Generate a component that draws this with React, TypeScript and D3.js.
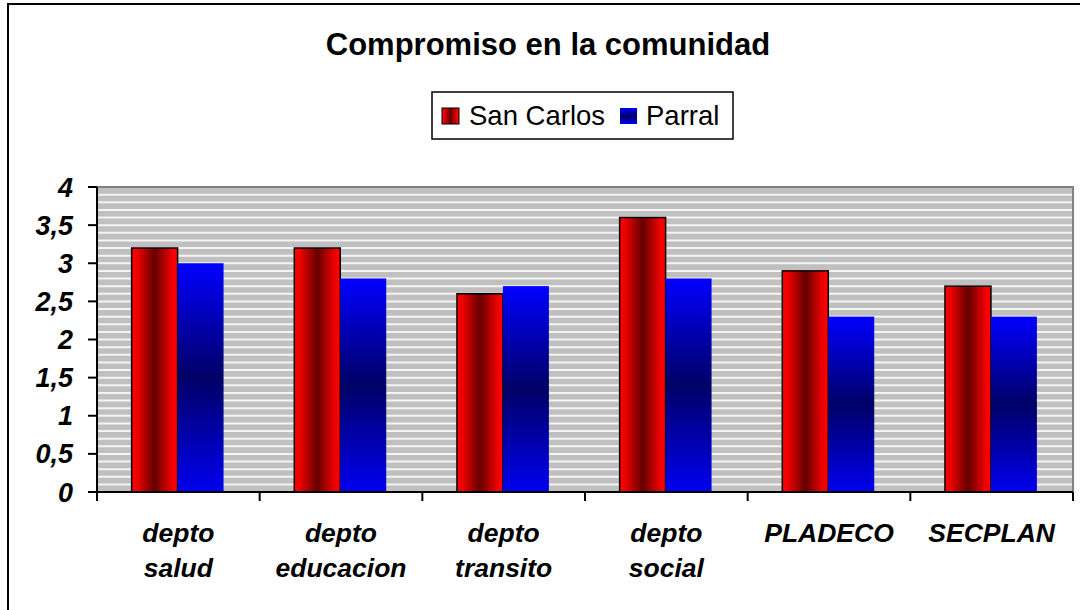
import React from 'react'
import * as d3 from 'd3'

const categories = [
  ['depto', 'salud'],
  ['depto', 'educacion'],
  ['depto', 'transito'],
  ['depto', 'social'],
  ['PLADECO'],
  ['SECPLAN'],
]
const seriesNames = ['San Carlos', 'Parral']
const sanCarlos = [3.2, 3.2, 2.6, 3.6, 2.9, 2.7]
const parral = [3.0, 2.8, 2.7, 2.8, 2.3, 2.3]
const yTicks = [0, 0.5, 1, 1.5, 2, 2.5, 3, 3.5, 4]

const font = '"Liberation Sans", Arial, sans-serif'

export default function App() {
  const [left, right, top, bottom] = [97, 1073, 187, 492]
  const keys = categories.map((_, i) => String(i))

  const x0 = d3.scaleBand().domain(keys).range([left, right]).padding(0)
  const bw = x0.bandwidth()
  const x1 = d3.scaleBand().domain(seriesNames).range([bw * 0.213, bw * 0.778]).padding(0)
  const y = d3.scaleLinear().domain([0, 4]).range([bottom, top])

  const stripes = d3.range(1, 40).map(d => d / 10)
  const fmt = (v: number) => String(v).replace('.', ',')

  const values = [sanCarlos, parral]

  return (
    <svg width={1080} height={610} style={{ position: 'absolute', left: 0, top: 0, background: '#fff' }}>
      <defs>
        <linearGradient id="redG" x1="0" y1="0" x2="1" y2="0">
          <stop offset="0" stopColor="#ff0000" />
          <stop offset="0.12" stopColor="#f00000" />
          <stop offset="0.5" stopColor="#640000" />
          <stop offset="0.88" stopColor="#f00000" />
          <stop offset="1" stopColor="#ff0000" />
        </linearGradient>
        <linearGradient id="blueG" x1="0" y1="0" x2="0" y2="1">
          <stop offset="0" stopColor="#0000ff" />
          <stop offset="0.5" stopColor="#000066" />
          <stop offset="1" stopColor="#0000f0" />
        </linearGradient>
      </defs>

      {/* marco exterior */}
      <rect x={8} y={4} width={1200} height={800} fill="#fff" stroke="#000" strokeWidth={2} />

      <text x={548} y={55} textAnchor="middle" fontFamily={font} fontWeight="bold" fontSize={31}>
        Compromiso en la comunidad
      </text>

      {/* leyenda */}
      <g>
        <rect x={432} y={92} width={301} height={47} fill="#fff" stroke="#000" strokeWidth={1.5} />
        <rect x={442} y={108} width={17} height={16} fill="url(#redG)" stroke="#000" strokeWidth={1} />
        <text x={469} y={125} fontFamily={font} fontSize={27.5}>San Carlos</text>
        <rect x={620} y={108} width={17} height={16} fill="url(#blueG)" />
        <text x={646} y={125} fontFamily={font} fontSize={27.5}>Parral</text>
      </g>

      {/* area del grafico */}
      <rect x={left} y={top} width={right - left} height={bottom - top} fill="#c0c0c0" stroke="#808080" strokeWidth={2} />
      {stripes.map(s => (
        <line key={s} x1={left + 1} x2={right - 1} y1={y(s)} y2={y(s)} stroke="#f4f4f4" strokeWidth={2} />
      ))}

      {categories.map((_, i) => (
        <g key={i} transform={`translate(${x0(String(i))},0)`}>
          {seriesNames.map((s, j) => {
            const v = values[j][i]
            return (
              <rect
                key={s}
                x={x1(s)}
                y={y(v)}
                width={x1.bandwidth()}
                height={y(0) - y(v)}
                fill={j === 0 ? 'url(#redG)' : 'url(#blueG)'}
                stroke={j === 0 ? '#000' : 'none'}
                strokeWidth={1.5}
              />
            )
          })}
        </g>
      ))}

      {/* ejes */}
      <line x1={left} x2={left} y1={top} y2={bottom} stroke="#000" strokeWidth={2} />
      <line x1={left} x2={right} y1={bottom} y2={bottom} stroke="#000" strokeWidth={2} />
      {yTicks.map(t => (
        <g key={t}>
          <line x1={left - 9} x2={left} y1={y(t)} y2={y(t)} stroke="#000" strokeWidth={2} />
          <text x={73} y={y(t) + 9.5} textAnchor="end" fontFamily={font} fontWeight="bold" fontStyle="italic" fontSize={27}>
            {fmt(t)}
          </text>
        </g>
      ))}
      {d3.range(categories.length + 1).map(i => {
        const xx = left + i * bw
        return <line key={i} x1={xx} x2={xx} y1={bottom} y2={bottom + 9} stroke="#000" strokeWidth={2} />
      })}
      {categories.map((lines, i) => (
        <text
          key={i}
          x={(x0(String(i)) || 0) + bw / 2}
          y={542}
          textAnchor="middle"
          fontFamily={font}
          fontWeight="bold"
          fontStyle="italic"
          fontSize={26.5}
        >
          {lines.map((l, k) => (
            <tspan key={k} x={(x0(String(i)) || 0) + bw / 2} dy={k === 0 ? 0 : 35}>
              {l}
            </tspan>
          ))}
        </text>
      ))}
    </svg>
  )
}
